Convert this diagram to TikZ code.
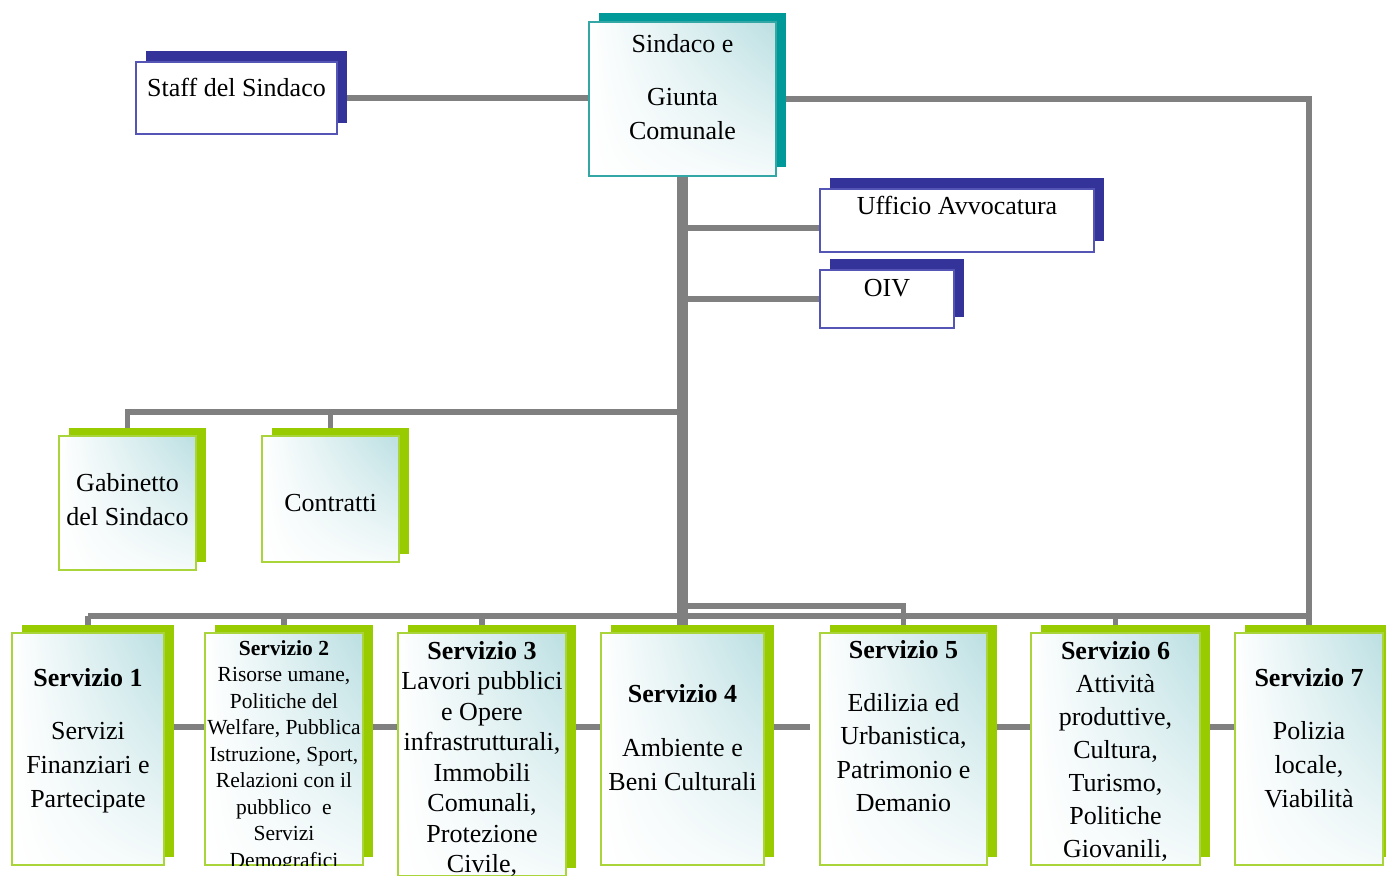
\documentclass[tikz,border=0pt]{standalone}
\usepackage{fontspec}
\setmainfont{Liberation Serif}
\usetikzlibrary{shadings,shadows}
\definecolor{lineG}{HTML}{808080}
\definecolor{tealS}{HTML}{009999}
\definecolor{tealB}{HTML}{33A6A6}
\definecolor{navyS}{HTML}{333399}
\definecolor{navyB}{HTML}{5555B5}
\definecolor{greenS}{HTML}{99CC00}
\definecolor{greenB}{HTML}{A9D53A}
\definecolor{tealL}{HTML}{BBDFE2}
\begin{document}
\begin{tikzpicture}[x=1pt,y=-1pt,
  conn/.style={draw=lineG,line width=5.5pt},
  trunkline/.style={draw=lineG,line width=10.5pt},
  gradbox/.style={shade,upper left=white,upper right=tealL,lower left=white,lower right=white!85!tealL,inner sep=0pt,outer sep=0pt},
  gbox/.style={gradbox,draw=greenB,line width=2pt,general shadow={fill=greenS,shadow xshift=10pt,shadow yshift=8pt}},
  tbox/.style={gradbox,draw=tealB,line width=2pt,general shadow={fill=tealS,shadow xshift=10pt,shadow yshift=9pt}},
  nbox/.style={fill=white,draw=navyB,line width=2pt,inner sep=0pt,outer sep=0pt,general shadow={fill=navyS,shadow xshift=10pt,shadow yshift=11pt}},
  txt/.style={align=center,inner sep=0pt,anchor=north,font=\fontsize{26}{34}\selectfont},
]
\useasboundingbox (0,0) rectangle (1386,875);

% ---------- boxes (positions only, drawn later) ----------
\path
  (682.5,99)  node[minimum width=187pt,minimum height=154pt] (sindaco) {}
  (236.5,98)  node[minimum width=201pt,minimum height=72pt]  (staff) {}
  (957,220.5) node[minimum width=274pt,minimum height=63pt]  (avv) {}
  (887,299)   node[minimum width=134pt,minimum height=58pt]  (oiv) {}
  (127.5,503) node[minimum width=137pt,minimum height=134pt] (gab) {}
  (330.5,499) node[minimum width=137pt,minimum height=126pt] (con) {}
  (88,749)    node[minimum width=152pt,minimum height=232pt] (s1) {}
  (284,749)   node[minimum width=158pt,minimum height=232pt] (s2) {}
  (482,754.5) node[minimum width=168pt,minimum height=243pt] (s3) {}
  (682.5,749) node[minimum width=163pt,minimum height=232pt] (s4) {}
  (903.5,749) node[minimum width=167pt,minimum height=232pt] (s5) {}
  (1115.5,749) node[minimum width=169pt,minimum height=232pt] (s6) {}
  (1309,749)  node[minimum width=148pt,minimum height=232pt] (s7) {};
\coordinate (gapend) at (810,727);

% ---------- connectors ----------
\draw[conn] (staff.east) -- (staff.east -| sindaco.west);
\draw[conn] (sindaco.east) -| (s7.north);
\draw[conn] (sindaco.south |- 0,228) -- (avv.west |- 0,228);
\draw[conn] (sindaco.south |- 0,299) -- (oiv.west);
\draw[conn] (sindaco.south |- 0,412) -| (gab.north);
\draw[conn] (con.north) -- (con.north |- 0,412);
\draw[conn] (s1.north |- 0,616) -- (s7.north |- 0,616);
\draw[conn] (s1.north |- 0,616) -- (s1.north);
\draw[conn] (s2.north |- 0,616) -- (s2.north);
\draw[conn] (s3.north |- 0,616) -- (s3.north);
\draw[conn] (s6.north |- 0,616) -- (s6.north);
\draw[conn] (sindaco.south |- 0,606) -| (s5.north);
\draw[conn] (s1.east |- 0,727) -- (gapend);
\draw[conn] (s5.east |- 0,727) -- (s7.west |- 0,727);
\draw[trunkline] (sindaco.south) -- (sindaco.south |- s4.north);

% ---------- drawn boxes ----------
\node[tbox,minimum width=187pt,minimum height=154pt] at (sindaco) {};
\node[nbox,minimum width=201pt,minimum height=72pt] at (staff) {};
\node[nbox,minimum width=274pt,minimum height=63pt] at (avv) {};
\node[nbox,minimum width=134pt,minimum height=58pt] at (oiv) {};
\node[gbox,minimum width=137pt,minimum height=134pt] at (gab) {};
\node[gbox,minimum width=137pt,minimum height=126pt] at (con) {};
\node[gbox,minimum width=152pt,minimum height=232pt] at (s1) {};
\node[gbox,minimum width=158pt,minimum height=232pt] at (s2) {};
\node[gbox,minimum width=168pt,minimum height=243pt] at (s3) {};
\node[gbox,minimum width=163pt,minimum height=232pt] at (s4) {};
\node[gbox,minimum width=167pt,minimum height=232pt] at (s5) {};
\node[gbox,minimum width=169pt,minimum height=232pt] at (s6) {};
\node[gbox,minimum width=148pt,minimum height=232pt] at (s7) {};

% ---------- texts ----------
\node[txt] (sindacot) at (sindaco.center |- 0,34) {Sindaco e\\[19pt]Giunta\\Comunale};
\node[txt] (stafft) at (staff.center |- 0,78) {Staff del Sindaco};
\node[txt] (avvt) at (avv.center |- 0,196) {Ufficio Avvocatura};
\node[txt] (oivt) at (oiv.center |- 0,279) {OIV};
\node[txt] (gabt) at (gab.center |- 0,473) {Gabinetto\\del Sindaco};
\node[txt] (cont) at (con.center |- 0,494) {Contratti};
\node[txt] (s1t) at (s1.center |- 0,668) {\textbf{Servizio 1}\\[19pt]Servizi\\Finanziari e\\Partecipate};
\begin{scope}
  \clip (s2.south west) rectangle (s2.north east);
  \node[txt,font=\fontsize{21.5}{26.5}\selectfont] (s2t) at (s2.center |- 0,640) {\textbf{Servizio 2}\\Risorse umane,\\Politiche del\\Welfare, Pubblica\\Istruzione, Sport,\\Relazioni con il\\pubblico~~e\\Servizi\\Demografici};
\end{scope}
\node[txt,font=\fontsize{26}{30.5}\selectfont] (s3t) at (s3.center |- 0,641) {\textbf{Servizio 3}\\Lavori pubblici\\e Opere\\infrastrutturali,\\Immobili\\Comunali,\\Protezione\\Civile,};
\node[txt] (s4t) at (s4.center |- 0,684) {\textbf{Servizio 4}\\[20pt]Ambiente e\\Beni Culturali};
\node[txt,font=\fontsize{26}{33.3}\selectfont] (s5t) at (s5.center |- 0,640) {\textbf{Servizio 5}\\[20pt]Edilizia ed\\Urbanistica,\\Patrimonio e\\Demanio};
\node[txt,font=\fontsize{26}{33}\selectfont] (s6t) at (s6.center |- 0,641) {\textbf{Servizio 6}\\Attività\\produttive,\\Cultura,\\Turismo,\\Politiche\\Giovanili,};
\node[txt] (s7t) at (s7.center |- 0,668) {\textbf{Servizio 7}\\[19pt]Polizia\\locale,\\Viabilità};
\end{tikzpicture}
\end{document}
